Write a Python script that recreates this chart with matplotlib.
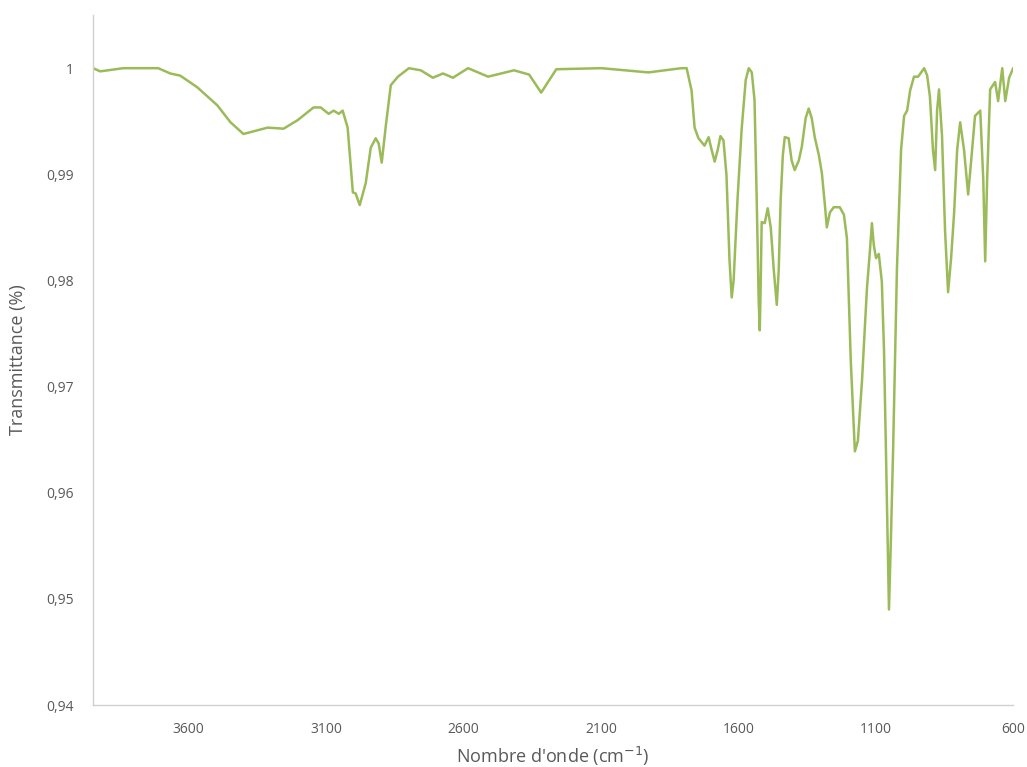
import matplotlib
matplotlib.use("Agg")
import matplotlib.pyplot as plt
from matplotlib.ticker import FuncFormatter

# IR spectrum
wavenumber = [3947, 3921, 3837, 3710, 3666, 3630, 3568, 3495, 3447, 3400,
              3312, 3254, 3203, 3145, 3119, 3090, 3072, 3053, 3039, 3021,
              3002, 2992, 2977, 2955, 2937, 2919, 2908, 2897, 2882, 2864,
              2838, 2798, 2755, 2711, 2674, 2638, 2583, 2510, 2416, 2361,
              2317, 2262, 2098, 1927, 1807, 1788, 1770, 1759, 1745, 1723,
              1708, 1697, 1686, 1675, 1665, 1654, 1643, 1632, 1624, 1617,
              1603, 1588, 1573, 1562, 1551, 1541, 1533, 1526, 1522, 1519,
              1515, 1504, 1493, 1482, 1471, 1460, 1453, 1446, 1438, 1431,
              1417, 1406, 1395, 1380, 1369, 1355, 1344, 1333, 1322, 1307,
              1296, 1285, 1278, 1267, 1253, 1231, 1216, 1205, 1191, 1176,
              1165, 1150, 1132, 1121, 1114, 1107, 1099, 1089, 1078, 1070,
              1063, 1052, 1045, 1037, 1023, 1008, 997, 986, 975, 961,
              946, 935, 924, 913, 903, 892, 884, 877, 870, 859,
              848, 837, 826, 815, 804, 793, 779, 764, 753, 739,
              720, 709, 702, 695, 684, 666, 655, 640, 629, 615,
              600]
transmittance = [1.0, 0.9997, 1.0, 1.0, 0.9995, 0.9993, 0.9982, 0.9965, 0.9949, 0.9938,
                 0.9944, 0.9943, 0.9951, 0.9963, 0.9963, 0.9957, 0.9960, 0.9957, 0.9960, 0.9944,
                 0.9883, 0.9882, 0.9871, 0.9892, 0.9925, 0.9934, 0.9929, 0.9911, 0.9946, 0.9984,
                 0.9992, 1.0, 0.9998, 0.9991, 0.9995, 0.9991, 1.0, 0.9992, 0.9998, 0.9994,
                 0.9977, 0.9999, 1.0, 0.9996, 1.0, 1.0, 0.9979, 0.9944, 0.9934, 0.9927,
                 0.9935, 0.9923, 0.9912, 0.9923, 0.9936, 0.9932, 0.9899, 0.9819, 0.9784, 0.9800,
                 0.9876, 0.9942, 0.9989, 1.0, 0.9996, 0.9970, 0.9876, 0.9782, 0.9753, 0.9790,
                 0.9855, 0.9854, 0.9868, 0.9850, 0.9810, 0.9777, 0.9810, 0.9876, 0.9918, 0.9935,
                 0.9934, 0.9913, 0.9904, 0.9913, 0.9926, 0.9953, 0.9962, 0.9953, 0.9935, 0.9918,
                 0.9901, 0.9871, 0.9850, 0.9864, 0.9869, 0.9869, 0.9862, 0.9840, 0.9725, 0.9639,
                 0.9649, 0.9706, 0.9793, 0.9829, 0.9854, 0.9833, 0.9821, 0.9825, 0.9799, 0.9734,
                 0.9640, 0.9490, 0.9556, 0.9640, 0.9811, 0.9923, 0.9955, 0.9960, 0.9979, 0.9992,
                 0.9992, 0.9996, 1.0, 0.9993, 0.9973, 0.9923, 0.9904, 0.9960, 0.9980, 0.9936,
                 0.9847, 0.9789, 0.9821, 0.9864, 0.9923, 0.9949, 0.9923, 0.9881, 0.9913, 0.9955,
                 0.9960, 0.9895, 0.9818, 0.9895, 0.9980, 0.9987, 0.9969, 1.0, 0.9969, 0.9991,
                 1.0]

x_ticks = [3600, 3100, 2600, 2100, 1600, 1100, 600]
y_ticks = [0.94, 0.95, 0.96, 0.97, 0.98, 0.99, 1.0]

plt.rcParams['font.family'] = ['Open Sans', 'DejaVu Sans']

fig = plt.figure(figsize=(10.27, 7.67), dpi=100)
ax = fig.add_axes([0.0906, 0.0808, 0.8960, 0.8995])

ax.plot(wavenumber, transmittance, color='#9bbb59', linewidth=1.8,
        solid_joinstyle='round')

ax.set_xlim(3947, 600)
ax.set_ylim(0.94, 1.005)
ax.set_xticks(x_ticks)
ax.set_yticks(y_ticks)


def comma_fmt(v, pos):
    s = '{:.2f}'.format(v).rstrip('0').rstrip('.')
    return s.replace('.', ',')


ax.yaxis.set_major_formatter(FuncFormatter(comma_fmt))

for side in ['top', 'right']:
    ax.spines[side].set_visible(False)
for side in ['left', 'bottom']:
    ax.spines[side].set_color('#d0d0d0')
    ax.spines[side].set_linewidth(1.0)

ax.tick_params(axis='both', length=0, colors='#595959', labelsize=10)
ax.tick_params(axis='x', pad=12)
ax.tick_params(axis='y', pad=14)

ax.set_xlabel("Nombre d'onde (cm$^{-1}$)", fontsize=13, color='#595959', labelpad=6)
ax.set_ylabel('Transmittance (%)', fontsize=13, color='#595959', labelpad=14)

fig.savefig('out.png', dpi=100, facecolor='white')
